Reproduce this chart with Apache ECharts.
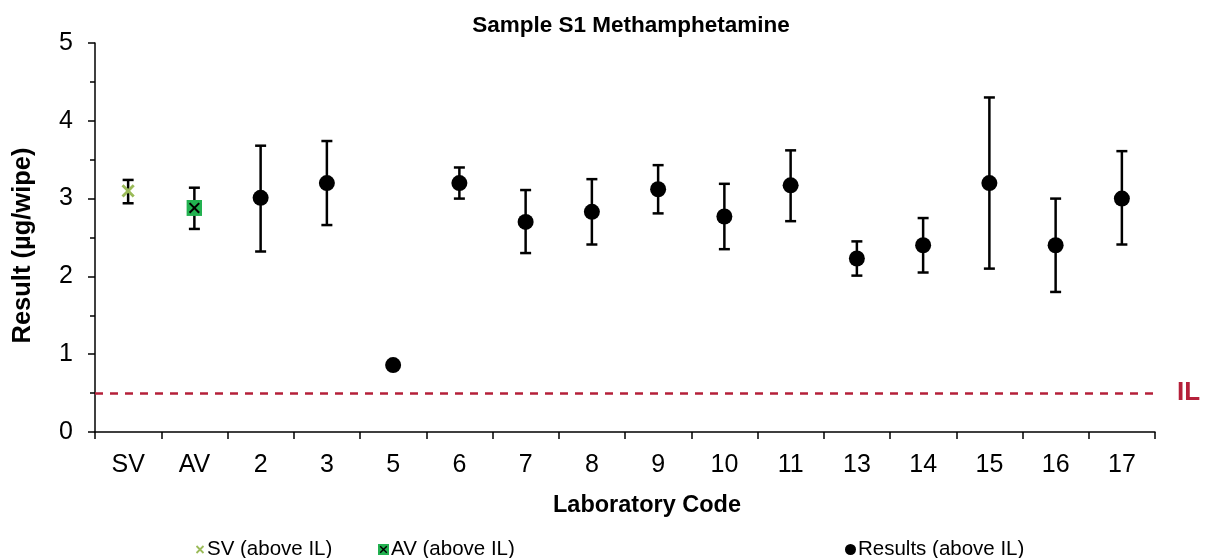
<!DOCTYPE html>
<html>
<head>
<meta charset="utf-8">
<script src="https://cdn.jsdelivr.net/npm/echarts@6/dist/echarts.min.js"></script>
<style>
  html, body { margin: 0; padding: 0; background: #fff; }
  #chart { width: 1205px; height: 558px; }
</style>
</head>
<body>
<div id="chart"></div>
<script>
// Laboratory codes (SV = spiked value, AV = assigned value)
const categories = ['SV', 'AV', '2', '3', '5', '6', '7', '8', '9', '10', '11', '13', '14', '15', '16', '17'];

// Reported means (µg/wipe)
const svValue = 3.10;
const avValue = 2.88;
const resultValues = [null, null, 3.01, 3.20, 0.86, 3.20, 2.70, 2.83, 3.12, 2.77, 3.17, 2.23, 2.40, 3.20, 2.40, 3.00];

// Uncertainty range for each entry: lower and upper bound (null = no bar)
const lowerBounds = [2.94, 2.61, 2.32, 2.66, null, 3.00, 2.30, 2.41, 2.81, 2.35, 2.71, 2.01, 2.05, 2.10, 1.80, 2.41];
const upperBounds = [3.24, 3.14, 3.68, 3.74, null, 3.40, 3.11, 3.25, 3.43, 3.19, 3.62, 2.45, 2.75, 4.30, 3.00, 3.61];

// Investigation level
const ilValue = 0.5;

const yTicks = [0, 1, 2, 3, 4, 5];

const FONT = "'Liberation Sans', Arial, sans-serif";

const svIcon = 'image://data:image/svg+xml;utf8,' + encodeURIComponent(
  '<svg xmlns="http://www.w3.org/2000/svg" width="20" height="20" viewBox="0 0 20 20">' +
  '<path d="M3,3L17,17M17,3L3,17" stroke="#9BBB59" stroke-width="3.6" fill="none"/></svg>');
const avIcon = 'image://data:image/svg+xml;utf8,' + encodeURIComponent(
  '<svg xmlns="http://www.w3.org/2000/svg" width="20" height="20" viewBox="0 0 20 20">' +
  '<rect x="0" y="0" width="20" height="20" fill="#22B150"/>' +
  '<path d="M4,4L16,16M16,4L4,16" stroke="#000" stroke-width="2.6" fill="none"/></svg>');

const errorData = categories.map((c, i) => [i, lowerBounds[i], upperBounds[i]])
  .filter(d => d[1] !== null && d[2] !== null);

const legendText = { fontFamily: FONT, fontSize: 20.5, color: '#000', padding: [0, 0, 0, -3] };

const chart = echarts.init(document.getElementById('chart'), null, { renderer: 'canvas' });

chart.setOption({
  animation: false,
  backgroundColor: '#fff',
  textStyle: { fontFamily: FONT, color: '#000' },
  title: {
    text: 'Sample S1 Methamphetamine',
    left: 626, top: 9, textAlign: 'center',
    textStyle: { fontFamily: FONT, fontSize: 22.5, fontWeight: 'bold', color: '#000' }
  },
  grid: { left: 95, right: 50, top: 43, bottom: 126, containLabel: false },
  legend: [
    { data: [{ name: 'SV (above IL)', icon: svIcon }], left: 190, top: 534,
      itemWidth: 10, itemHeight: 10, textStyle: legendText },
    { data: [{ name: 'AV (above IL)', icon: avIcon }], left: 373, top: 534,
      itemWidth: 11, itemHeight: 11, textStyle: legendText },
    { data: [{ name: 'Results (above IL)', icon: 'circle' }], left: 840, top: 534,
      itemWidth: 11, itemHeight: 11, textStyle: legendText }
  ],
  xAxis: {
    type: 'category',
    data: categories,
    boundaryGap: true,
    name: 'Laboratory Code',
    nameLocation: 'middle',
    nameGap: 62,
    nameTextStyle: { fontFamily: FONT, fontSize: 23.5, fontWeight: 'bold', color: '#000', padding: [0, 0, 0, 44] },
    axisLine: { lineStyle: { color: '#000', width: 1.5 } },
    axisTick: { show: true, alignWithLabel: false, length: 7, lineStyle: { color: '#000', width: 1.5 } },
    axisLabel: { fontFamily: FONT, fontSize: 25, color: '#000', margin: 21 },
    splitLine: { show: false }
  },
  yAxis: {
    type: 'value',
    min: yTicks[0], max: yTicks[yTicks.length - 1], interval: 1,
    name: 'Result (µg/wipe)',
    nameLocation: 'middle',
    nameGap: 59,
    nameTextStyle: { fontFamily: FONT, fontSize: 25.5, fontWeight: 'bold', color: '#000', padding: [0, 16, 0, 0] },
    axisLine: { show: true, lineStyle: { color: '#000', width: 1.5 } },
    axisTick: { show: true, length: 7, lineStyle: { color: '#000', width: 1.5 } },
    minorTick: { show: true, splitNumber: 2, length: 5, lineStyle: { color: '#000', width: 1.5 } },
    axisLabel: { fontFamily: FONT, fontSize: 25, color: '#000', margin: 22 },
    splitLine: { show: false }
  },
  series: [
    {
      name: 'error',
      type: 'custom',
      z: 2,
      silent: true,
      data: errorData,
      renderItem: function (params, api) {
        const x = api.coord([api.value(0), api.value(1)])[0];
        const yLow = api.coord([api.value(0), api.value(1)])[1];
        const yHigh = api.coord([api.value(0), api.value(2)])[1];
        const half = 5.5;
        const style = { stroke: '#000', lineWidth: 2.5 };
        return {
          type: 'group',
          children: [
            { type: 'line', shape: { x1: x, y1: yLow, x2: x, y2: yHigh }, style: style },
            { type: 'line', shape: { x1: x - half, y1: yLow, x2: x + half, y2: yLow }, style: style },
            { type: 'line', shape: { x1: x - half, y1: yHigh, x2: x + half, y2: yHigh }, style: style }
          ]
        };
      }
    },
    {
      name: 'SV (above IL)',
      type: 'scatter',
      z: 5,
      symbol: svIcon,
      symbolSize: 16,
      itemStyle: { color: '#9BBB59', opacity: 1 },
      data: [[0, svValue]]
    },
    {
      name: 'AV (above IL)',
      type: 'scatter',
      z: 5,
      symbol: avIcon,
      symbolSize: 16,
      itemStyle: { color: '#22B150', opacity: 1 },
      data: [[1, avValue]]
    },
    {
      name: 'Results (above IL)',
      type: 'scatter',
      z: 5,
      symbol: 'circle',
      symbolSize: 16,
      itemStyle: { color: '#000', opacity: 1 },
      data: resultValues.map((v, i) => v === null ? null : [i, v]).filter(d => d !== null),
      markLine: {
        silent: true,
        symbol: ['none', 'none'],
        lineStyle: { color: '#B5203A', type: [8, 7], width: 2.6 },
        label: {
          show: true, position: 'end', formatter: 'IL', distance: 22,
          fontFamily: FONT, fontSize: 26, fontWeight: 'bold', color: '#B5203A'
        },
        data: [{ yAxis: ilValue }]
      }
    }
  ]
});
</script>
</body>
</html>
